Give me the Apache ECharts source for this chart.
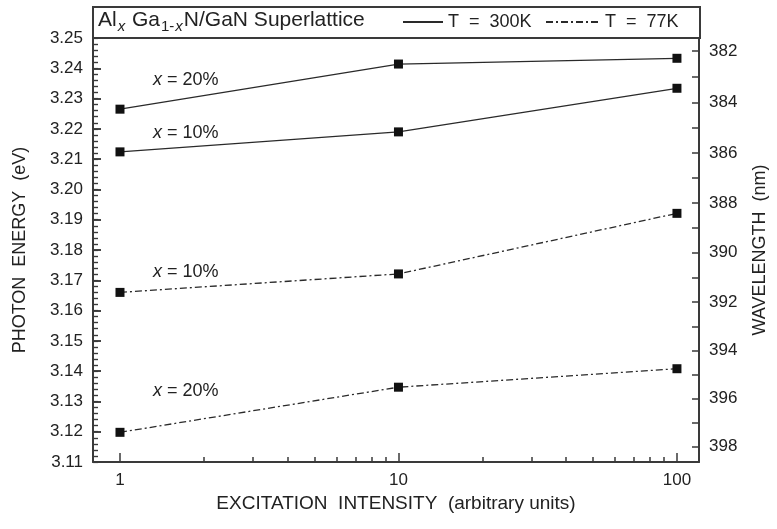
<!DOCTYPE html>
<html><head><meta charset="utf-8">
<script src="https://cdn.jsdelivr.net/npm/echarts@6/dist/echarts.min.js"></script>
<style>html,body{margin:0;padding:0;background:#fff}#c{width:777px;height:529px}</style>
</head><body><div id="c"></div>
<script>
// ---- data ----
const intensities = [1, 10, 100];
const e300_x20 = [3.2265, 3.2414, 3.2433];
const e300_x10 = [3.2124, 3.2190, 3.2334];
const e77_x10 = [3.1660, 3.1721, 3.1921];
const e77_x20 = [3.1198, 3.1347, 3.1408];
const xMajorTicks = [1, 10, 100];
const xMinorTicks = [2, 3, 4, 5, 6, 7, 8, 9, 20, 30, 40, 50, 60, 70, 80, 90];
const wavelengthLabels = [382, 384, 386, 388, 390, 392, 394, 396, 398];
const wavelengthTicks = [382, 383, 384, 385, 386, 387, 388, 389, 390, 391, 392, 393, 394, 395, 396, 397, 398];
const HC = 1239.84; // eV·nm
const E_MIN = 3.11, E_MAX = 3.25, E_STEP = 0.01, E_MINOR_STEP = 0.002;

const FONT = '"Liberation Sans", Arial, Helvetica, sans-serif';
const ink = '#222';
const axisCol = '#3a3a3a';
const dashDot = [7, 3, 2, 3];
const GRID = { left: 93, right: 77, top: 38, bottom: 67 };

function pts(arr) { return intensities.map((x, i) => [x, arr[i]]); }
function mkSeries(name, arr, dashed) {
  return {
    type: 'line', name: name, data: pts(arr),
    symbol: 'rect', symbolSize: 9,
    itemStyle: { color: '#111' },
    lineStyle: { color: '#2a2a2a', width: 1.3, type: dashed ? dashDot : 'solid' },
    emphasis: { disabled: true }, z: 3
  };
}
// narrow strip grids along the left edge: their split lines act as inward tick marks
function tickStripY(gridIndex, step, width) {
  return {
    type: 'value', gridIndex: gridIndex, min: E_MIN, max: E_MAX, interval: step,
    axisLine: { show: false }, axisTick: { show: false }, axisLabel: { show: false },
    splitLine: { show: true, lineStyle: { color: axisCol, width: width } }
  };
}
function tickStripX(gridIndex) {
  return { type: 'value', gridIndex: gridIndex, min: 0, max: 1, show: false };
}

const chart = echarts.init(document.getElementById('c'), null, { renderer: 'canvas' });
const tickFont = { fontFamily: FONT, fontSize: 17, color: ink };

chart.setOption({
  animation: false,
  backgroundColor: '#fff',
  textStyle: { fontFamily: FONT },
  grid: [
    GRID,
    { left: GRID.left, width: 8, top: GRID.top, bottom: GRID.bottom },
    { left: GRID.left, width: 5, top: GRID.top, bottom: GRID.bottom }
  ],
  xAxis: [
    {
      type: 'log', logBase: 10, min: 0.8, max: 120, position: 'bottom',
      name: 'EXCITATION  INTENSITY  (arbitrary units)', nameLocation: 'middle', nameGap: 29,
      nameTextStyle: { fontFamily: FONT, fontSize: 19, color: ink },
      axisLine: { onZero: false, lineStyle: { color: axisCol, width: 2 } },
      axisTick: { inside: true, length: 9, customValues: xMajorTicks, lineStyle: { color: axisCol, width: 1.5 } },
      axisLabel: Object.assign({ customValues: xMajorTicks, margin: 10 }, tickFont),
      splitLine: { show: false }, minorTick: { show: false }
    },
    {
      type: 'log', logBase: 10, min: 0.8, max: 120, position: 'bottom',
      axisLine: { show: false, onZero: false },
      axisTick: { inside: true, length: 5, customValues: xMinorTicks, lineStyle: { color: axisCol, width: 1.5 } },
      axisLabel: { show: false }, splitLine: { show: false }
    },
    tickStripX(1),
    tickStripX(2)
  ],
  yAxis: [
    {
      type: 'value', min: E_MIN, max: E_MAX, interval: E_STEP, position: 'left', z: 10,
      name: 'PHOTON  ENERGY  (eV)', nameLocation: 'middle', nameGap: 64,
      nameTextStyle: { fontFamily: FONT, fontSize: 18, color: ink },
      axisLine: { show: true, onZero: false, lineStyle: { color: axisCol, width: 2 } },
      axisTick: { show: true, inside: true, length: 8, lineStyle: { color: axisCol, width: 1.5 } },
      minorTick: { show: true, splitNumber: 5, length: 5, lineStyle: { color: axisCol, width: 1.2 } },
      axisLabel: Object.assign({ margin: 10, formatter: v => v.toFixed(2) }, tickFont),
      splitLine: { show: true, lineStyle: { color: 'rgba(0,0,0,0)' } },
      minorSplitLine: { show: false }
    },
    {
      type: 'value', min: E_MIN, max: E_MAX, position: 'right', z: 10,
      name: 'WAVELENGTH  (nm)', nameLocation: 'middle', nameGap: 52,
      nameTextStyle: { fontFamily: FONT, fontSize: 18, color: ink },
      axisLine: { show: true, onZero: false, lineStyle: { color: axisCol, width: 2 } },
      axisTick: { show: true, inside: true, length: 7, customValues: wavelengthTicks.map(l => HC / l), lineStyle: { color: axisCol, width: 1.5 } },
      axisLabel: Object.assign({ margin: 10, customValues: wavelengthLabels.map(l => HC / l), formatter: v => String(Math.round(HC / v)) }, tickFont),
      splitLine: { show: false }
    },
    tickStripY(1, E_STEP, 1.5),
    tickStripY(2, E_MINOR_STEP, 1.2)
  ],
  legend: [
    {
      data: ['T = 300K'], left: 402, top: 13, padding: 0, itemWidth: 40, itemHeight: 18, z: 10,
      itemStyle: { opacity: 0 }, selectedMode: false,
      formatter: () => 'T  =  300K',
      textStyle: { fontFamily: FONT, fontSize: 18, color: ink }
    },
    {
      data: ['T = 77K'], left: 545, top: 13, padding: 0, itemWidth: 54, itemHeight: 18, z: 10,
      itemStyle: { opacity: 0 }, selectedMode: false,
      formatter: () => 'T  =  77K',
      textStyle: { fontFamily: FONT, fontSize: 18, color: ink }
    }
  ],
  graphic: [
    { type: 'rect', z: 1, shape: { x: 93, y: 7, width: 607, height: 31 },
      style: { fill: '#fff', stroke: axisCol, lineWidth: 2 } },
    { type: 'text', z: 11, x: 98, y: 22,
      style: {
        text: '{a|Al}{s|x}{a| Ga}{u|1-}{s|x}{a|N/GaN Superlattice}',
        verticalAlign: 'middle', fill: ink,
        rich: {
          a: { fontFamily: FONT, fontSize: 21, lineHeight: 24, fill: ink, verticalAlign: 'top' },
          s: { fontFamily: FONT, fontSize: 15, fontStyle: 'italic', lineHeight: 24, fill: ink, verticalAlign: 'bottom', padding: [10, 1, 0, 1] },
          u: { fontFamily: FONT, fontSize: 15, lineHeight: 24, fill: ink, verticalAlign: 'bottom', padding: [10, 0, 0, 1] }
        }
      } },
    ...[['20', 80], ['10', 133], ['10', 272], ['20', 391]].map(([p, y]) => ({
      type: 'text', z: 11, x: 153, y: y,
      style: {
        text: '{i|x}{n| = ' + p + '%}', verticalAlign: 'middle', fill: ink,
        rich: {
          i: { fontFamily: FONT, fontSize: 18, fontStyle: 'italic', fill: ink },
          n: { fontFamily: FONT, fontSize: 18, fill: ink }
        }
      }
    }))
  ],
  series: [
    mkSeries('T = 300K', e300_x20, false),
    mkSeries('T = 300K', e300_x10, false),
    mkSeries('T = 77K', e77_x10, true),
    mkSeries('T = 77K', e77_x20, true)
  ]
});
</script>
</body></html>
